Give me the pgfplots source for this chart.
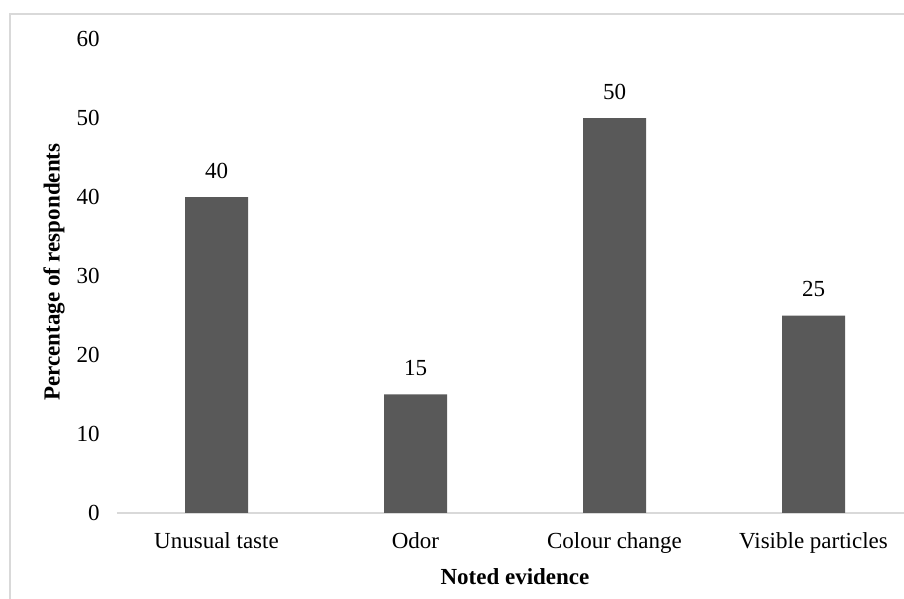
\documentclass[border=0pt]{standalone}
\usepackage{fontspec}
\setmainfont{Liberation Serif}
\usepackage{pgfplots}
\pgfplotsset{compat=1.18}

\definecolor{barfill}{HTML}{595959}
\definecolor{framegray}{HTML}{D9D9D9}

\begin{document}
\begin{tikzpicture}[font=\fontsize{11.5}{13.5}\selectfont]
  % fixed page size and clipping region
  \useasboundingbox (0,0) rectangle (452pt,299.5pt);
  \clip (0,0) rectangle (452pt,299.5pt);
  % outer chart frame
  \draw[framegray, line width=0.8pt] (5pt,-5pt) -- (5pt,292.5pt) -- (460pt,292.5pt);

  \begin{axis}[
    at={(58.5pt,43pt)}, anchor=south west,
    scale only axis, width=398pt, height=237pt,
    xmin=-0.5, xmax=3.5, ymin=0, ymax=60,
    enlargelimits=false, clip=false,
    axis lines*=left,
    x axis line style={draw=framegray, line width=0.8pt},
    y axis line style={draw=none},
    major tick length=0pt,
    xtick={0,1,2,3},
    xticklabels={Unusual taste, Odor, Colour change, Visible particles},
    ytick={0,10,20,30,40,50,60},
    /pgf/number format/assume math mode=true,
    yticklabel style={anchor=east, inner sep=0pt, xshift=-8.5pt},
    xticklabel style={anchor=north, inner sep=0pt, yshift=-9.5pt},
    xlabel={\bfseries Noted evidence},
    xlabel style={at={(axis description cs:0.5,-0.135)}, anchor=center, inner sep=0pt},
    ylabel={\bfseries Percentage of respondents},
    ylabel style={at={(axis description cs:-0.0791,0.508)}, anchor=center, inner sep=0pt},
    ybar, bar width=31.5pt,
    nodes near coords,
    nodes near coords style={anchor=south, inner sep=0pt, yshift=9pt},
  ]
    \addplot[fill=barfill, draw=none] coordinates {(0,40) (1,15) (2,50) (3,25)};
  \end{axis}
\end{tikzpicture}
\end{document}
